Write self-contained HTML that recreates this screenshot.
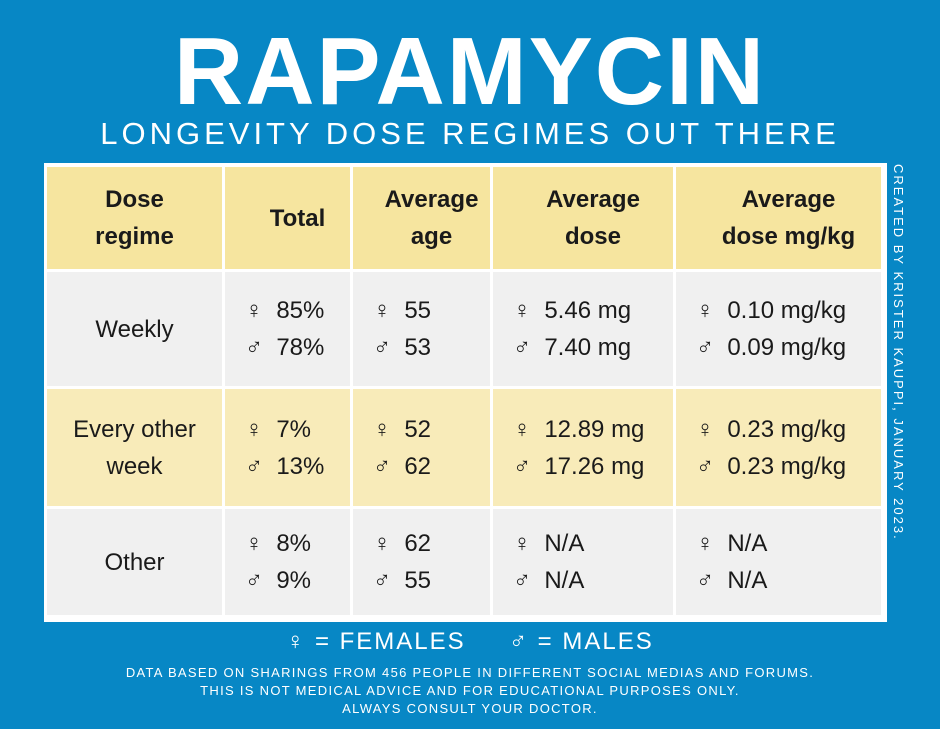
<!DOCTYPE html>
<html><head><meta charset="utf-8"><style>
body{margin:0;width:940px;height:729px;background:#0787c5;font-family:"Liberation Sans","DejaVu Sans",sans-serif;position:relative;overflow:hidden;color:#fff}
.t{position:absolute;left:0;width:940px;text-align:center}
#title{top:22px;font-size:96px;font-weight:bold;letter-spacing:2px;line-height:100px}
#sub{top:116px;font-size:31px;letter-spacing:4px;line-height:36px}
.c{position:absolute;color:#1a1a1a;font-size:24px;line-height:37px;display:flex;align-items:center;justify-content:center;text-align:center}
.h{font-weight:bold}
.d{justify-content:flex-start;text-align:left}
#side{position:absolute;left:888px;top:164px;width:20px;writing-mode:vertical-rl;font-size:13px;letter-spacing:2px;line-height:20px;white-space:nowrap}
#legend{top:627px;font-size:24px;letter-spacing:2px;line-height:30px}
.foot{font-size:13px;letter-spacing:1.3px;line-height:18px}
</style></head><body>
<div class="t" id="title">RAPAMYCIN</div>
<div class="t" id="sub">LONGEVITY DOSE REGIMES OUT THERE</div>
<div id="table" style="position:absolute;left:44px;top:163px;width:843px;height:459px;background:#fff"></div>
<div id="side">CREATED BY KRISTER KAUPPI, JANUARY 2023.</div>
<div class="t" id="legend">♀ = FEMALES &nbsp;&nbsp;&nbsp; ♂ = MALES</div>
<div class="t foot" style="top:664px">DATA BASED ON SHARINGS FROM 456 PEOPLE IN DIFFERENT SOCIAL MEDIAS AND FORUMS.<br>THIS IS NOT MEDICAL ADVICE AND FOR EDUCATIONAL PURPOSES ONLY.<br>ALWAYS CONSULT YOUR DOCTOR.</div>
<script>
const cols=[47,225,353,493,676,884];
const rows=[167,272,389,509,618];
const bgs=['#f6e59f','#f0f0f0','#f8ebb9','#f0f0f0'];
const header=['Dose<br>regime','Total','Average<br>age','Average<br>dose','Average<br>dose mg/kg'];
const regimes=['Weekly','Every other<br>week','Other'];
const totals=[['85%','78%'],['7%','13%'],['8%','9%']];
const ages=[['55','53'],['52','62'],['62','55']];
const doses=[['5.46 mg','7.40 mg'],['12.89 mg','17.26 mg'],['N/A','N/A']];
const perkg=[['0.10 mg/kg','0.09 mg/kg'],['0.23 mg/kg','0.23 mg/kg'],['N/A','N/A']];
const pads=[0,20,20,20,20];
function cell(r,c,html,cls){
 const el=document.createElement('div');
 el.className='c '+cls;
 
 
 el.style.left=cols[c]+'px';el.style.top=rows[r]+'px';
 el.style.width=(cols[c+1]-cols[c]-3-(pads[c]))+'px';
 el.style.height=(rows[r+1]-rows[r]-3)+'px';
 el.style.paddingLeft=pads[c]+'px';
 el.style.background=bgs[r];
 el.innerHTML=html;
 document.body.appendChild(el);
}
header.forEach((h,c)=>cell(0,c,h,'h'));
const data=[totals,ages,doses,perkg];
regimes.forEach((g,i)=>{
 cell(i+1,0,g,'');
 data.forEach((arr,k)=>cell(i+1,k+1,'♀&nbsp; '+arr[i][0]+'<br>♂&nbsp; '+arr[i][1],'d'));
});
</script>
</body></html>
